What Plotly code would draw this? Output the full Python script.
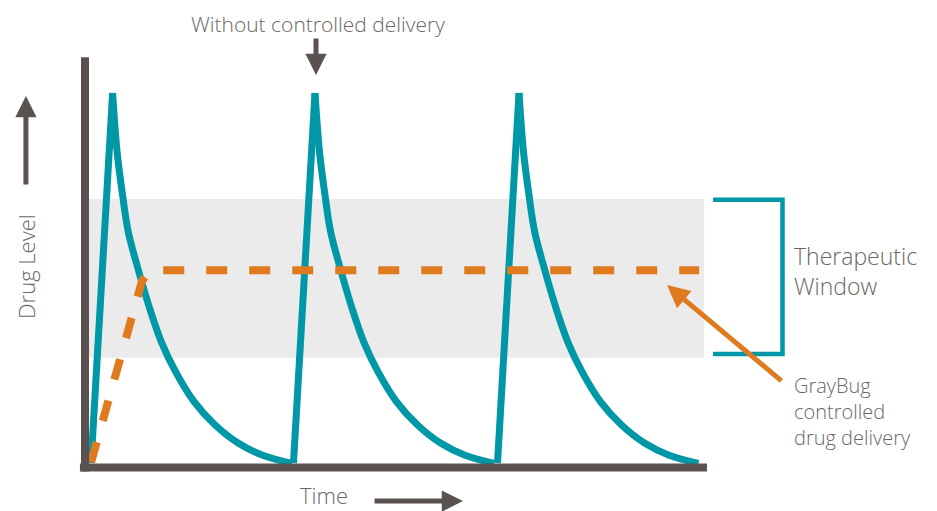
import plotly.graph_objects as go

# ---- data (time units, drug-level units) ----
dose_times = [0.30, 10.27, 20.32]        # time each dose starts (trough)
rise_duration = 1.06                      # time from dose to peak
trough_level = 0.8
peak_dt = [0, 0.22, 0.49, 0.77, 1.27, 1.80, 2.40, 3.10, 4.02, 5.05, 6.20, 7.39, 8.84]   # time after peak
peak_level = [100, 84.3, 72.7, 62.8, 52.5, 42.7, 33.3, 25.3, 17.2, 11.0, 6.1, 2.9, 0.7]

controlled_t = [0.3, 2.81, 3.2, 30.25]
controlled_level = [1.0, 49.6, 52.5, 52.5]

window_low, window_high = 29.0, 71.6
window_t = [0.1, 30.5]
bracket_t = [30.94, 34.36]
bracket_level = [71.4, 30.0]
axis_t = [-0.25, 30.64]
axis_level = [-0.4, 110.0]

TEAL = "#0097a7"
ORANGE = "#e07a1f"
DARK = "#5a5250"
TXT = "#6d6766"
FONT = "Open Sans"

# rises (linear) and decays (smooth)
rise_x, rise_y, dec_x, dec_y = [], [], [], []
for d in dose_times:
    p = d + rise_duration
    rise_x += [d, p, None]
    rise_y += [trough_level, peak_level[0], None]
    dec_x += [p + dt for dt in peak_dt] + [None]
    dec_y += list(peak_level) + [None]

fig = go.Figure()
fig.add_shape(type="rect", x0=window_t[0], x1=window_t[1], y0=window_low, y1=window_high,
              fillcolor="#ebebeb", line_width=0, layer="below")

fig.add_trace(go.Scatter(x=rise_x, y=rise_y, mode="lines",
                         line=dict(color=TEAL, width=7), hoverinfo="skip"))
fig.add_trace(go.Scatter(x=dec_x, y=dec_y, mode="lines",
                         line=dict(color=TEAL, width=7, shape="spline", smoothing=1.0),
                         hoverinfo="skip"))
fig.add_trace(go.Scatter(x=controlled_t, y=controlled_level, mode="lines",
                         line=dict(color=ORANGE, width=8, dash="21px,22px"), hoverinfo="skip"))
# therapeutic window bracket
fig.add_trace(go.Scatter(x=[bracket_t[0], bracket_t[1], bracket_t[1], bracket_t[0]],
                         y=[bracket_level[0], bracket_level[0], bracket_level[1], bracket_level[1]],
                         mode="lines", line=dict(color=TEAL, width=4.5), hoverinfo="skip"))

# axes
fig.add_shape(type="line", x0=axis_t[0], x1=axis_t[1], y0=axis_level[0], y1=axis_level[0],
              line=dict(color=DARK, width=8))
fig.add_shape(type="line", x0=0.0, x1=0.0, y0=-1.5, y1=109.6,
              line=dict(color=DARK, width=8))

def arrow(tip, tail, color, width, size):
    fig.add_annotation(x=tip[0], y=tip[1], ax=tail[0], ay=tail[1],
                       xref="x", yref="y", axref="x", ayref="y", text="",
                       showarrow=True, arrowhead=2, arrowwidth=width,
                       arrowsize=size, arrowcolor=color)

arrow((11.38, 104.8), (11.38, 115.0), DARK, 5, 0.85)
arrow((-2.91, 99.2), (-2.91, 75.1), DARK, 5, 0.85)
arrow((18.62, -9.4), (14.19, -9.4), DARK, 5, 0.85)
arrow((28.67, 48.5), (34.38, 22.5), ORANGE, 5, 0.9)

def label(x, y, text, size, xanchor="left", angle=0):
    fig.add_annotation(x=x, y=y, xref="x", yref="y", text=text, showarrow=False,
                       xanchor=xanchor, yanchor="middle", align="left", textangle=angle,
                       borderpad=0,
                       font=dict(family=FONT, size=size, color=TXT, weight=300))

label(11.5, 118.6, "Without controlled delivery", 21, "center")
label(34.9, 52.3, "Therapeutic<br>Window", 23)
label(34.9, 14.6, "GrayBug<br>controlled<br>drug delivery", 20)
label(10.55, -7.9, "Time", 22)
label(-2.9, 53.4, "Drug Level", 22, "center", -90)

fig.update_layout(
    width=937, height=511, margin=dict(l=0, r=0, t=0, b=0),
    paper_bgcolor="white", plot_bgcolor="white", showlegend=False,
    xaxis=dict(range=[-4.187, 41.97], visible=False, fixedrange=True),
    yaxis=dict(range=[-12.06, 124.93], visible=False, fixedrange=True),
)
fig.write_html("out.html", config={"displayModeBar": False},
               post_script="document.body.style.margin='0px';document.body.style.overflow='hidden';")
